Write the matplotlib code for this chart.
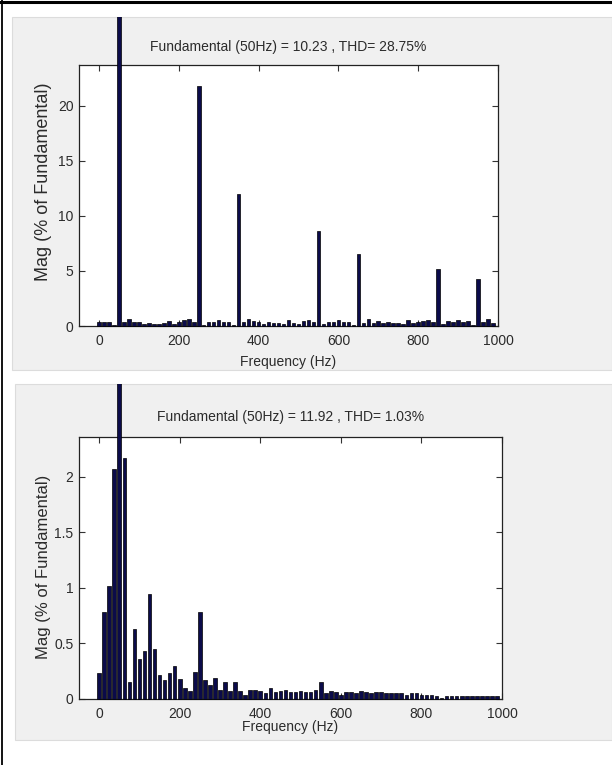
import matplotlib

matplotlib.use("Agg")
import matplotlib.pyplot as plt  # noqa: E402
from matplotlib.lines import Line2D  # noqa: E402
from matplotlib.patches import Rectangle  # noqa: E402

# FFT bins every 12.5 Hz, 0 .. 987.5 Hz
freq_hz = [i * 12.5 for i in range(80)]

# inverter output, % of fundamental (50 Hz bin = 100)
mag_before = [
    0.40, 0.35, 0.35, 0.10, 100.0, 0.40, 0.60, 0.40, 0.35, 0.15,
    0.30, 0.20, 0.15, 0.25, 0.45, 0.15, 0.35, 0.50, 0.60, 0.35,
    21.75, 0.10, 0.35, 0.35, 0.55, 0.40, 0.40, 0.10, 11.95, 0.35,
    0.65, 0.45, 0.40, 0.15, 0.35, 0.30, 0.25, 0.20, 0.55, 0.30,
    0.20, 0.45, 0.55, 0.40, 8.65, 0.15, 0.35, 0.35, 0.55, 0.40,
    0.35, 0.10, 6.50, 0.25, 0.65, 0.25, 0.45, 0.25, 0.35, 0.25,
    0.30, 0.20, 0.55, 0.25, 0.35, 0.45, 0.55, 0.40, 5.15, 0.20,
    0.45, 0.35, 0.55, 0.35, 0.45, 0.10, 4.25, 0.40, 0.65, 0.25,
]

# filtered output, % of fundamental
mag_after = [
    0.23, 0.78, 1.02, 2.07, 100.0, 2.17, 0.15, 0.63, 0.36, 0.43,
    0.95, 0.45, 0.22, 0.17, 0.23, 0.30, 0.18, 0.10, 0.07, 0.24,
    0.78, 0.17, 0.13, 0.19, 0.08, 0.15, 0.07, 0.15, 0.07, 0.04,
    0.08, 0.08, 0.07, 0.05, 0.10, 0.06, 0.07, 0.08, 0.06, 0.06,
    0.07, 0.06, 0.06, 0.08, 0.15, 0.05, 0.07, 0.06, 0.04, 0.06,
    0.06, 0.05, 0.07, 0.06, 0.05, 0.06, 0.06, 0.05, 0.05, 0.05,
    0.05, 0.04, 0.05, 0.05, 0.04, 0.04, 0.04, 0.03, 0.01, 0.03,
    0.03, 0.03, 0.03, 0.03, 0.03, 0.03, 0.03, 0.03, 0.03, 0.03,
]

titles = [
    "Fundamental (50Hz) = 10.23 , THD= 28.75%",
    "Fundamental (50Hz) = 11.92 , THD= 1.03%",
]
y_ticks = [[0, 5, 10, 15, 20], [0, 0.5, 1, 1.5, 2]]
y_tops = [23.7, 2.36]
x_ticks = [0, 200, 400, 600, 800, 1000]

W, H = 612, 765
TXT = "#2b2b2b"
BAR = "#0b0b4a"

plt.rcParams["font.family"] = ["Liberation Sans", "DejaVu Sans"]

fig = plt.figure(figsize=(W / 100, H / 100), dpi=100)
fig.patch.set_facecolor("white")


def fx(px):
    return px / W


def fy(py):
    return 1 - py / H


# pixel boxes (left, top, right, bottom)
panels = [(12, 17, 612, 370), (15, 384, 612, 740)]
axes_px = [(79, 65, 498, 326), (79, 437, 502, 699)]
title_y = [47, 417]
xlabel_y = [362, 727]
ylabel_y = [182, 567]
ylabel_size = [13, 12]

for k, mags in enumerate([mag_before, mag_after]):
    pl, pt, pr, pb = panels[k]
    al, at, ar, ab = axes_px[k]
    aw, ah = ar - al, ab - at

    bg = Rectangle((fx(pl), fy(pb)), fx(pr - pl), (pb - pt) / H,
                   transform=fig.transFigure, facecolor="#f0f0f0",
                   edgecolor="#dcdcdc", linewidth=0.8, zorder=0)
    fig.add_artist(bg)

    ax = fig.add_axes([fx(al), fy(ab), fx(aw), ah / H])
    ax.set_facecolor("white")
    bars = ax.bar(freq_hz, mags, width=9.0, color=BAR, edgecolor="black",
                  linewidth=0.5, zorder=3)
    for b in bars:
        b.set_clip_path(bg)  # fundamental spills out of the axes up to the panel edge
    ax.set_xlim(-50, 1000)
    ax.set_ylim(0, y_tops[k])
    ax.set_xticks(x_ticks)
    ax.set_yticks(y_ticks[k])
    ax.set_yticklabels([f"{v:g}" for v in y_ticks[k]])
    ax.tick_params(direction="in", length=4, width=0.8, top=True, right=True,
                   labelsize=10, colors="#333333", labelcolor=TXT)
    ax.tick_params(axis="x", pad=6)
    ax.tick_params(axis="y", pad=4)
    for s in ax.spines.values():
        s.set_color("#222222")
        s.set_linewidth(0.9)

    ax.set_xlabel("Frequency (Hz)", fontsize=10, color=TXT, va="center")
    ax.xaxis.set_label_coords(0.5, (ab - xlabel_y[k]) / ah)
    ax.set_ylabel("Mag (% of Fundamental)", fontsize=ylabel_size[k], color=TXT,
                  va="center")
    ax.yaxis.set_label_coords((43 - al) / aw, (ab - ylabel_y[k]) / ah)
    ax.text(0.5, (ab - title_y[k]) / ah, titles[k], transform=ax.transAxes,
            ha="center", va="center", fontsize=10, color=TXT)

# screenshot frame lines
fig.add_artist(Line2D([fx(1.5), fx(1.5)], [0, 1], transform=fig.transFigure,
                      color="black", linewidth=1.3))
fig.add_artist(Line2D([0, 1], [fy(1.5), fy(1.5)], transform=fig.transFigure,
                      color="black", linewidth=2.2))

fig.savefig("out.png", dpi=100, facecolor="white")
